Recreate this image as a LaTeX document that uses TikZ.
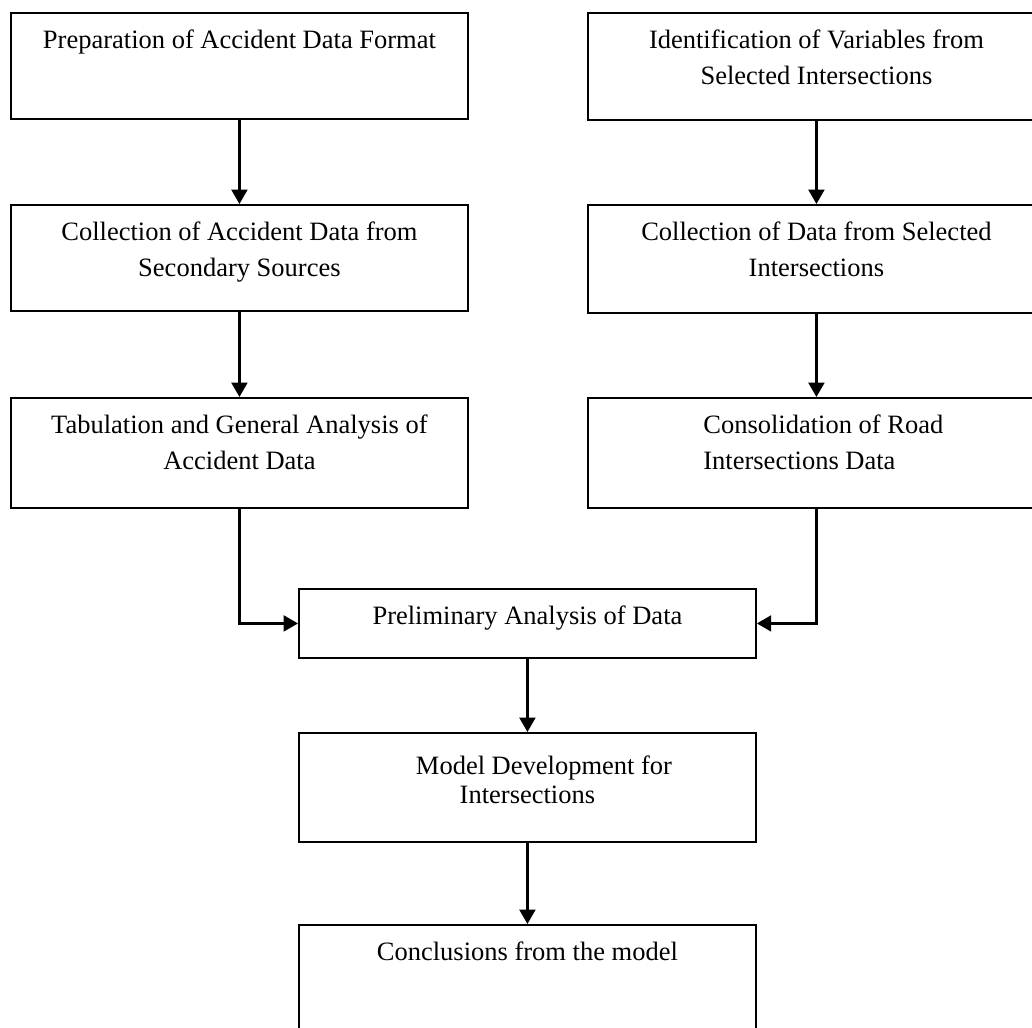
\documentclass[tikz,border=0pt]{standalone}
\usepackage{fontspec}
\setmainfont{Liberation Serif}
\usetikzlibrary{positioning,arrows.meta}

\newlength\upx
\setlength\upx{0.4528pt}

\tikzset{
  box/.style={draw, line width=0.85pt, anchor=north west, inner sep=0pt, minimum width=457\upx},
  txt/.style={inner sep=0pt, align=center, font=\fontsize{12}{16.1}\selectfont},
  arr/.style={-{Triangle[length=6.5pt,width=7.2pt]}, line width=1.05pt},
}

\begin{document}
\begin{tikzpicture}[x=0.4528pt, y=-0.4528pt]

    \clip (0,0) rectangle (1032,1028);

    % Left column
    \node[box, minimum height=106\upx] (prep)    at (10,12)  {};
    \node[box, minimum height=106\upx] (collect) at (10,204) {};
    \node[box, minimum height=110\upx] (tab)     at (10,397) {};

    % Right column
    \node[box, minimum height=107\upx] (ident)   at (587,12)  {};
    \node[box, minimum height=108\upx] (colsel)  at (587,204) {};
    \node[box, minimum height=110\upx] (consol)  at (587,397) {};

    % Middle column
    \node[box, minimum height=69\upx]  (prelim)  at (298,588) {};
    \node[box, minimum height=109\upx] (model)   at (298,732) {};
    \node[box, minimum height=116\upx] (concl)   at (298,924) {};

    % Texts
    \node[txt, below=8pt of prep.north]    (preptxt)    {Preparation of Accident Data Format};
    \node[txt, below=8pt of collect.north] (collecttxt) {Collection of Accident Data from\\Secondary Sources};
    \node[txt, below=8pt of tab.north]     (tabtxt)     {Tabulation and General Analysis of\\Accident Data};
    \node[txt, below=8pt of ident.north]   (identtxt)   {Identification of Variables from\\Selected Intersections};
    \node[txt, below=8pt of colsel.north]  (colseltxt)  {Collection of Data from Selected\\Intersections};
    \node[txt, align=left, below right=8pt and 52.5pt of consol.north west] (consoltxt) {Consolidation of Road\\Intersections Data};
    \node[txt, below=8pt of prelim.north]  (prelimtxt)  {Preliminary Analysis of Data};
    \node[txt, font=\fontsize{12}{13.4}\selectfont, below=10.4pt of model.north] (modeltxt) {\hspace*{15pt}Model Development for\\Intersections};
    \node[txt, below=8pt of concl.north]   (concltxt)   {Conclusions from the model};

    % Arrows
    \foreach \a/\b in {prep/collect, collect/tab, ident/colsel, colsel/consol, prelim/model, model/concl}
        \draw[arr] (\a) -- (\b);

    \draw[arr] (tab.south) |- (prelim.west);
    \draw[arr] (consol.south) |- (prelim.east);

\end{tikzpicture}
\end{document}
